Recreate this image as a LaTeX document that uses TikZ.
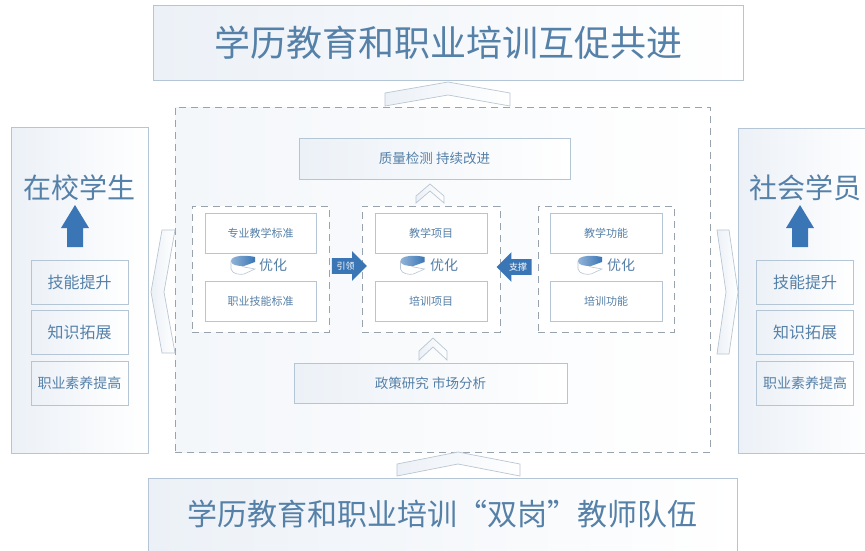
\documentclass[tikz,border=0pt]{standalone}
\usepackage{fontspec}
\setmainfont{Noto Sans CJK SC}
\usepackage{tikz}
\usetikzlibrary{shapes.arrows}
\definecolor{txtblue}{HTML}{5580A8}
\definecolor{boxline}{HTML}{B4C5D6}
\definecolor{boxtint}{HTML}{ECF1F7}
\definecolor{dashgray}{HTML}{98A3AE}
\definecolor{arrowblue}{HTML}{3A76B6}
\definecolor{chevline}{HTML}{B9C6D3}

\begin{document}
\begin{tikzpicture}[x=1pt,y=-1pt,
  panel/.style={draw=boxline, line width=0.8pt, left color=boxtint, right color=white, inner sep=0pt},
  sidetitle/.style={text=txtblue, font=\fontsize{28}{32}\selectfont},
  smallbox/.style={draw=boxline, line width=0.8pt, left color=boxtint, right color=white,
    minimum width=97pt, minimum height=44pt, inner sep=0pt, text=txtblue, font=\fontsize{16}{18}\selectfont},
  innerbox/.style={draw=boxline, line width=0.7pt, fill=white, minimum width=111pt, minimum height=40pt,
    inner sep=0pt, text=txtblue, font=\fontsize{11}{13}\selectfont},
  groupbox/.style={draw=dashgray, line width=0.8pt, dash pattern=on 7pt off 5pt,
    minimum width=137pt, minimum height=126pt, inner sep=0pt},
  opttext/.style={text=txtblue, font=\fontsize{14}{16}\selectfont, inner sep=0pt},
  chev/.style={draw=chevline, line width=0.7pt, left color=boxtint, right color=white},
  blockarrow/.style={single arrow, fill=arrowblue, text=white, font=\fontsize{9}{10}\selectfont,
    inner xsep=2pt, inner ysep=3.5pt, single arrow head extend=7pt, single arrow head indent=0pt, minimum height=35pt},
  optimicon/.pic={
    \path[draw=chevline, line width=0.6pt, fill=white] (-12,-4) -- (-12,4) .. controls (-11,9) and (-3,10) .. (1,9) -- (12,4) -- (1,2) -- cycle;
    \path[left color=arrowblue!55, right color=arrowblue] (-12,-4) .. controls (-12,-10) and (4,-10) .. (12,-8) -- (12,-3) -- (1,1) .. controls (-6,1) and (-12,0) .. (-12,-4) -- cycle;
  }]
\clip (0,0) rectangle (865,550);
\fill[white] (0,0) rectangle (865,550);

% top and bottom
\node[panel, minimum width=590pt, minimum height=75pt, text=txtblue, font=\fontsize{36}{40}\selectfont] (goal) at (448,42.5) {学历教育和职业培训互促共进};
\node[panel, minimum width=589pt, minimum height=82pt] (teamframe) at (442.5,519) {};
\node[text=txtblue, font=\fontsize{30}{34}\selectfont] (team) at (442.5,514) {学历教育和职业培训{\addfontfeatures{CharacterWidth=Full}“}双岗{\addfontfeatures{CharacterWidth=Full}”}教师队伍};

% side panels
\node[panel, minimum width=137pt, minimum height=326pt] (school) at (79.5,290) {};
\node[panel, minimum width=137pt, minimum height=325pt] (social) at (806.5,290.5) {};
\node[sidetitle] (schooltitle) at (79.5,188) {在校学生};
\node[sidetitle] (socialtitle) at (805,188) {社会学员};
\fill[arrowblue] (61,228) -- (75,205) -- (89,228) -- (83,228) -- (83,247) -- (67,247) -- (67,228) -- cycle;
\fill[arrowblue] (786,228) -- (800,205) -- (814,228) -- (808,228) -- (808,247) -- (792,247) -- (792,228) -- cycle;
\node[smallbox] (schoolskill) at (79.5,282) {技能提升};
\node[smallbox] (schoolknow) at (79.5,332) {知识拓展};
\node[smallbox, font=\fontsize{14}{16}\selectfont] (schoolprof) at (79.5,383.5) {职业素养提高};
\node[smallbox] (socialskill) at (805,282) {技能提升};
\node[smallbox] (socialknow) at (805,332) {知识拓展};
\node[smallbox, font=\fontsize{14}{16}\selectfont] (socialprof) at (805,383.5) {职业素养提高};

% core
\node[groupbox, minimum width=535pt, minimum height=345pt, left color=boxtint!60, right color=white] (core) at (442.5,279.5) {};
\node[panel, minimum width=271pt, minimum height=41pt, text=txtblue, font=\fontsize{13.5}{15}\selectfont] (quality) at (434.5,158.5) {质量检测\ 持续改进};
\node[panel, minimum width=273pt, minimum height=40pt, text=txtblue, font=\fontsize{13.5}{15}\selectfont] (policy) at (430.5,383) {政策研究\ 市场分析};

\node[groupbox, fill=white] (stdgroup) at (260.5,269) {};
\node[groupbox, fill=white, minimum width=138pt] (itemgroup) at (431,269) {};
\node[groupbox, fill=white, minimum width=136pt] (funcgroup) at (606,269) {};
\node[innerbox] (profstd) at (260.5,233) {专业教学标准};
\node[innerbox] (skillstd) at (260.5,301.5) {职业技能标准};
\node[innerbox, minimum width=112pt] (teachitem) at (431,233) {教学项目};
\node[innerbox, minimum width=112pt] (trainitem) at (431,301.5) {培训项目};
\node[innerbox, minimum width=112pt] (teachfunc) at (606,233) {教学功能};
\node[innerbox, minimum width=112pt] (trainfunc) at (606,301.5) {培训功能};

\pic at (243,265) {optimicon};
\node[opttext] (stdopt) at (273,265) {优化};
\pic at (412.5,265) {optimicon};
\node[opttext] (itemopt) at (444,265) {优化};
\pic at (590,265) {optimicon};
\node[opttext] (funcopt) at (621,265) {优化};

\node[blockarrow] (lead) at (345.5,266) {引领};
\node[blockarrow, shape border rotate=180] (support) at (518,267) {支撑};

% chevrons
\path[chev] (385,93) -- (448,82) -- (510,93) -- (510,106) -- (448,95) -- (385,106) -- cycle;
\path[chev] (397,464) -- (458,452) -- (520,464) -- (520,476) -- (458,464) -- (397,476) -- cycle;
\path[chev] (416,196) -- (430,184) -- (444,196) -- (444,203) -- (430,191) -- (416,203) -- cycle;
\path[chev] (419,351) -- (433,338) -- (447,351) -- (447,360) -- (433,347) -- (419,360) -- cycle;
\path[chev] (162,230) -- (151,292) -- (162,353) -- (175,353) -- (164,292) -- (175,230) -- cycle;
\path[chev] (717,230) -- (729,230) -- (738,292) -- (729,354) -- (717,354) -- (726,292) -- cycle;
\end{tikzpicture}
\end{document}
